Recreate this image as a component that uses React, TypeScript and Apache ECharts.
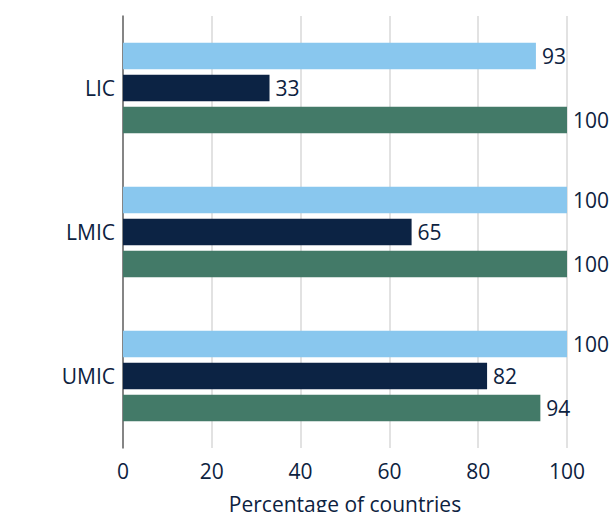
import React, { useEffect, useRef } from "react";
import * as echarts from "echarts";

const categories = ["LIC", "LMIC", "UMIC"];
const seriesA = [93, 100, 100];
const seriesB = [33, 65, 82];
const seriesC = [100, 100, 94];
const xTicks = [0, 20, 40, 60, 80, 100];

const TEXT = "#0d2240";
const FONT = "'Open Sans', 'Noto Sans', sans-serif";
const FS = 21;

export default function App() {
  const ref = useRef<HTMLDivElement>(null);
  useEffect(() => {
    if (!ref.current) return;
    const chart = echarts.init(ref.current, undefined, { renderer: "svg" });
    const label = {
      show: true,
      position: "right",
      distance: 6,
      color: TEXT,
      fontSize: FS,
      fontFamily: FONT,
    };
    const mk = (name: string, data: number[], color: string) => ({
      name,
      type: "bar",
      data,
      barWidth: 26.5,
      barGap: "21%",
      barCategoryGap: "37%",
      itemStyle: { color },
      label,
    });
    chart.setOption({
      animation: false,
      grid: { left: 123, right: 45, top: 16, height: 432, outerBoundsMode: "none", containLabel: false },
      xAxis: {
        type: "value",
        min: xTicks[0],
        max: xTicks[xTicks.length - 1],
        interval: 20,
        name: "Percentage of countries",
        nameLocation: "middle",
        nameGap: 45,
        nameTextStyle: { color: TEXT, fontSize: FS, fontFamily: FONT },
        axisLine: { show: false },
        axisTick: { show: false },
        axisLabel: { color: TEXT, fontSize: FS, fontFamily: FONT, margin: 12 },
        splitLine: { show: true, lineStyle: { color: "#d9d9d9", width: 1.5 } },
      },
      yAxis: {
        type: "category",
        data: categories,
        inverse: true,
        axisLine: { show: true, lineStyle: { color: "#666666", width: 1.5 } },
        axisTick: { show: false },
        axisLabel: { color: TEXT, fontSize: FS, fontFamily: FONT, margin: 8 },
      },
      series: [
        mk("A", seriesA, "#89c7ee"),
        mk("B", seriesB, "#0c2344"),
        mk("C", seriesC, "#437a68"),
      ],
    });
    return () => chart.dispose();
  }, []);
  return <div ref={ref} style={{ width: 612, height: 512, position: "absolute", left: 0, top: 0 }} />;
}
